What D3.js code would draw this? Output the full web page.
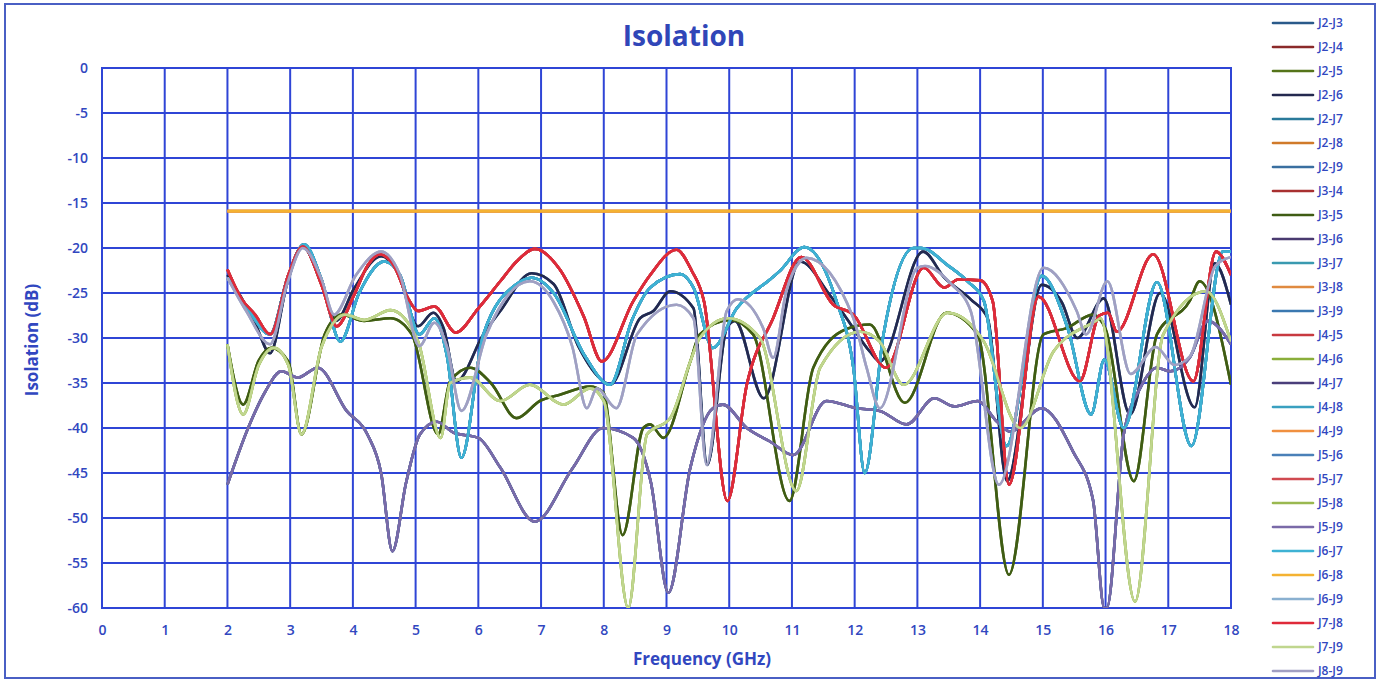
<!DOCTYPE html>
<html>
<head>
<meta charset="utf-8">
<script src="https://cdn.jsdelivr.net/npm/d3@7"></script>
<style>
  body { margin: 0; background: #fff; }
  svg { display: block; font-family: "Open Sans", "Noto Sans", sans-serif; }
</style>
</head>
<body>
<script>
// ---- data: [frequency GHz, isolation dB] ----
var redCurve = [[2,-22.4],[2.22,-25.6],[2.44,-27.4],[2.68,-29.6],[2.97,-23],[3.2,-19.8],[3.5,-24.1],[3.74,-28.7],[4.02,-25.2],[4.24,-21.9],[4.43,-20.7],[4.67,-22.2],[4.88,-25.6],[5.04,-27],[5.3,-26.5],[5.64,-29.4],[6.0,-26.7],[6.35,-23.7],[6.61,-21.5],[6.9,-20.1],[7.3,-22.4],[7.68,-27.6],[7.97,-32.6],[8.47,-25.9],[8.74,-23],[9.16,-20.2],[9.4,-22.5],[9.6,-26],[9.97,-48.1],[10.28,-35.2],[10.7,-27.8],[11.15,-21],[11.66,-26.3],[11.98,-27.4],[12.5,-33.3],[13.1,-22.2],[13.43,-24.4],[13.65,-23.5],[14.0,-23.6],[14.2,-25.9],[14.46,-46.3],[14.93,-25.4],[15.59,-34.8],[15.9,-27.5],[16.04,-27.2],[16.18,-29.3],[16.76,-20.7],[17.4,-34.8],[17.76,-20.4],[18,-23]];
var navyCurve = [[2,-23],[2.22,-25.5],[2.45,-28.5],[2.68,-31.7],[2.95,-24],[3.2,-19.8],[3.5,-24],[3.73,-28.1],[4.02,-24.5],[4.45,-20.9],[4.7,-22.5],[5.04,-28.7],[5.28,-27.2],[5.45,-29],[5.65,-34.8],[6.08,-29.6],[6.35,-27],[6.85,-22.8],[7.2,-24],[7.6,-31],[7.99,-34.8],[8.1,-35.2],[8.58,-27.8],[8.79,-27],[9.06,-24.8],[9.43,-26.7],[9.65,-44.1],[9.96,-28.9],[10.09,-28.1],[10.55,-36.7],[11.13,-21.5],[11.6,-25.2],[11.87,-27.8],[12.24,-31.5],[12.4,-32.6],[13.09,-20.4],[13.43,-23.3],[13.85,-25.7],[14.12,-27.8],[14.43,-45.9],[14.98,-24.1],[15.3,-26],[15.55,-30],[15.97,-25.6],[16.39,-38.5],[16.87,-25],[17.42,-37.7],[17.74,-21.7],[18,-26.3]];
var cyanCurve = [[2,-23.3],[2.3,-26.5],[2.68,-29.6],[2.95,-23.5],[3.22,-19.6],[3.5,-23.5],[3.8,-30.4],[4.1,-25],[4.5,-21.5],[4.75,-23],[5.06,-29.6],[5.3,-27.8],[5.5,-32],[5.73,-43.3],[6.08,-29.6],[6.61,-24],[6.85,-23.3],[7.2,-25],[7.7,-32],[8.1,-35.2],[8.45,-28],[8.74,-24.4],[9.22,-22.9],[9.43,-24.4],[9.74,-31.1],[10.12,-26.7],[10.65,-23.5],[10.8,-22.6],[11.2,-19.9],[11.71,-25.9],[11.98,-33.3],[12.16,-45],[12.46,-29.6],[12.94,-20],[13.06,-20],[13.48,-21.9],[13.8,-23.7],[14.06,-25.9],[14.42,-42],[14.98,-23.1],[15.4,-29],[15.77,-38.5],[15.98,-32.4],[16.29,-40],[16.82,-23.8],[17.37,-42],[17.87,-20.4],[18,-20.4]];
var grayCurve = [[2,-23.3],[2.3,-27],[2.68,-30.7],[2.95,-24],[3.2,-20],[3.5,-23.5],[3.7,-27.4],[4.05,-23],[4.45,-20.4],[4.75,-23],[5.06,-30.9],[5.3,-28.3],[5.5,-31],[5.73,-38.1],[6.13,-29.6],[6.82,-23.7],[7.2,-26],[7.5,-31],[7.73,-37.8],[7.89,-35.6],[8.2,-37.8],[8.53,-29.6],[9.16,-26.3],[9.43,-27.8],[9.64,-44.1],[9.96,-27],[10.14,-25.7],[10.54,-28.9],[10.7,-32.2],[10.91,-24.8],[11.13,-21.5],[11.23,-21.1],[11.98,-27.8],[12.19,-33.3],[12.4,-37.8],[13.0,-22.2],[13.12,-22],[13.54,-24],[13.85,-27],[14.3,-46.3],[15.01,-22.2],[15.54,-27],[15.69,-29.6],[16.03,-23.7],[16.4,-34],[16.8,-31],[17.1,-33],[17.35,-32],[17.75,-22],[18,-21]];
var oliveCurve = [[2,-30.7],[2.25,-37.4],[2.5,-32.5],[2.7,-31.1],[2.97,-32.6],[3.18,-40.7],[3.55,-29.6],[3.82,-27.4],[4.18,-28.1],[4.6,-27.8],[4.94,-29.6],[5.36,-40.7],[5.55,-34.8],[5.87,-33.3],[6.2,-35],[6.61,-38.9],[6.98,-37],[7.3,-36.3],[7.78,-35.4],[7.99,-36],[8.3,-51.9],[8.63,-40],[8.74,-39.6],[8.95,-41.1],[9.38,-32.6],[9.53,-29.6],[10.01,-28],[10.38,-29.6],[10.96,-48.1],[11.34,-33.3],[11.87,-29],[12.24,-28.5],[12.8,-37.2],[13.46,-27.2],[13.96,-29.6],[14.46,-56.3],[15.01,-29.6],[15.38,-28.9],[15.8,-27.4],[16.0,-29],[16.45,-45.9],[16.82,-29.6],[17.34,-25.9],[17.5,-23.7],[18,-35.2]];
var limeCurve = [[2,-30.7],[2.25,-38.5],[2.5,-33],[2.74,-31.1],[2.97,-33],[3.18,-40.7],[3.5,-31],[3.88,-27.4],[4.18,-28],[4.6,-26.9],[5.04,-30.4],[5.4,-41.1],[5.55,-35],[5.87,-34.4],[6.35,-37],[6.82,-35.2],[7.36,-37.4],[7.78,-35.6],[8.0,-37],[8.39,-60],[8.69,-40.7],[9.06,-38.9],[9.38,-32.6],[9.53,-30],[9.98,-27.8],[10.49,-30],[11.07,-47],[11.45,-33.3],[12.09,-29.3],[12.4,-30.4],[12.78,-35.2],[13.48,-27.2],[14.06,-30.4],[14.64,-40],[15.17,-31.5],[15.85,-28.1],[15.92,-27.8],[16.47,-59.3],[16.92,-29.6],[17.6,-24.8],[18,-30.4]];
var purpleCurve = [[2,-46.3],[2.33,-40],[2.6,-36],[2.86,-33.7],[3.12,-34.4],[3.44,-33.3],[3.9,-38.1],[4.23,-40.7],[4.45,-45],[4.63,-53.7],[4.85,-46],[5.07,-40.7],[5.34,-39.3],[5.6,-40.5],[6.0,-41.1],[6.35,-44.4],[6.9,-50.4],[7.5,-44.5],[7.99,-40],[8.47,-41.1],[8.75,-46],[9.03,-58.3],[9.38,-44.4],[9.74,-37.8],[9.9,-37.4],[10.28,-40],[10.65,-41.5],[11.02,-43],[11.55,-37],[12.03,-37.8],[12.4,-38.1],[12.83,-39.6],[13.27,-36.7],[13.59,-37.6],[13.96,-37],[14.27,-39.3],[14.48,-40.4],[14.98,-37.8],[15.48,-42.6],[15.8,-48],[15.98,-60],[16.02,-60],[16.29,-40.7],[16.55,-35.6],[16.82,-33.3],[17.03,-33.7],[17.34,-32.2],[17.63,-28.1],[18,-30.7]];
var orangeCurve = [[2,-15.9],[18,-15.9]];

// legend order: name, colour, which curve it follows
var seriesNames  = ["J2-J3","J2-J4","J2-J5","J2-J6","J2-J7","J2-J8","J2-J9","J3-J4","J3-J5","J3-J6","J3-J7","J3-J8","J3-J9","J4-J5","J4-J6","J4-J7","J4-J8","J4-J9","J5-J6","J5-J7","J5-J8","J5-J9","J6-J7","J6-J8","J6-J9","J7-J8","J7-J9","J8-J9"];
var seriesColors = ["#2a5a8a","#8b2a2a","#55741a","#24294f","#2a7a9a","#d07a2a","#3a6fa0","#a83030","#3f5c14","#4a3a70","#3a9ab0","#e08a40","#3a78b0","#c83a40","#8aae3a","#4a3e7a","#3aa0c0","#f09040","#4a80b8","#d04a50","#9ab850","#7a6aa8","#3eb2d4","#f4b232","#8ab0d0","#df2a3a","#c0d68e","#a19fc2"];
var seriesCurve  = ["navy","red","olive","navy","cyan","orange","cyan","red","olive","purple","cyan","orange","cyan","red","lime","purple","cyan","orange","purple","red","lime","purple","cyan","orange","gray","red","lime","gray"];

var curves = {red: redCurve, navy: navyCurve, cyan: cyanCurve, gray: grayCurve,
              olive: oliveCurve, lime: limeCurve, purple: purpleCurve, orange: orangeCurve};

var xTicks = d3.range(0, 19, 1);
var yTicks = d3.range(-60, 1, 5);

// ---- layout ----
var w = 1377;
var h = 682;
var margin = {top: 68, right: 146, bottom: 74, left: 102};
var innerWidth = w - margin.left - margin.right;
var innerHeight = h - margin.top - margin.bottom;

var gridColor = "#2f45d6";
var textColor = "#3147c0";
var fontFamily = '"Open Sans", "Noto Sans", sans-serif';

var svg = d3.select("body")
    .append("svg")
    .attr("width", w)
    .attr("height", h);

// outer frame (stroke only)
svg.append("rect")
    .attr("x", 5)
    .attr("y", 4)
    .attr("width", 1370)
    .attr("height", 674)
    .attr("fill", "none")
    .attr("stroke", "#4a5fc4")
    .attr("stroke-width", 2);

var x = d3.scaleLinear().domain([0, 18]).range([0, innerWidth]);
var y = d3.scaleLinear().domain([-60, 0]).range([innerHeight, 0]);

var g = svg.append("g")
    .attr("transform", `translate(${margin.left}, ${margin.top})`);

// grid lines
g.append("g")
  .selectAll("line")
  .data(xTicks)
  .enter().append("line")
    .attr("x1", d => x(d)).attr("x2", d => x(d))
    .attr("y1", 0).attr("y2", innerHeight)
    .attr("stroke", gridColor)
    .attr("stroke-width", 2);

g.append("g")
  .selectAll("line")
  .data(yTicks)
  .enter().append("line")
    .attr("x1", 0).attr("x2", innerWidth)
    .attr("y1", d => y(d)).attr("y2", d => y(d))
    .attr("stroke", gridColor)
    .attr("stroke-width", 2);

// tick labels (plain hyphen minus, like the original)
var xAxis = g.append("g")
    .attr("transform", `translate(0, ${innerHeight})`)
    .call(d3.axisBottom(x).tickValues(xTicks).tickSize(0).tickPadding(17).tickFormat(d => String(d)));

var yAxis = g.append("g")
    .call(d3.axisLeft(y).tickValues(yTicks).tickSize(0).tickPadding(14).tickFormat(d => String(d)));

[xAxis, yAxis].forEach(function (ax) {
  ax.attr("font-family", fontFamily);
  ax.select(".domain").remove();
  ax.selectAll(".tick line").remove();
  ax.selectAll(".tick text")
      .attr("fill", textColor)
      .attr("font-size", 14)
      .attr("font-weight", 600);
});

// plot border
g.append("rect")
    .attr("width", innerWidth)
    .attr("height", innerHeight)
    .attr("fill", "none")
    .attr("stroke", gridColor)
    .attr("stroke-width", 2);

// lines
var line = d3.line()
    .x(d => x(d[0]))
    .y(d => y(d[1]))
    .curve(d3.curveMonotoneX);

g.append("clipPath").attr("id", "plotclip")
  .append("rect")
    .attr("x", 0).attr("y", -2)
    .attr("width", innerWidth).attr("height", innerHeight + 2);

g.append("g")
    .attr("clip-path", "url(#plotclip)")
  .selectAll("path")
  .data(seriesNames)
  .enter().append("path")
    .attr("d", (d, i) => line(curves[seriesCurve[i]]))
    .attr("fill", "none")
    .attr("stroke", (d, i) => seriesColors[i])
    .attr("stroke-width", 2.6)
    .attr("stroke-linejoin", "round");

// titles
svg.append("text")
    .attr("x", 684)
    .attr("y", 46)
    .attr("text-anchor", "middle")
    .attr("fill", "#3046b8")
    .attr("font-size", 28)
    .attr("font-weight", "bold")
    .text("Isolation");

svg.append("text")
    .attr("x", 702)
    .attr("y", 665)
    .attr("text-anchor", "middle")
    .attr("fill", textColor)
    .attr("font-size", 17)
    .attr("font-weight", "bold")
    .text("Frequency (GHz)");

svg.append("text")
    .attr("transform", "translate(38, 340) rotate(-90)")
    .attr("text-anchor", "middle")
    .attr("fill", textColor)
    .attr("font-size", 17)
    .attr("font-weight", "bold")
    .text("Isolation (dB)");

// legend
var legend = svg.append("g")
  .selectAll("g")
  .data(seriesNames)
  .enter().append("g")
    .attr("transform", (d, i) => `translate(1273, ${23 + i * 24})`);

legend.append("line")
    .attr("x1", 0).attr("x2", 40)
    .attr("stroke", (d, i) => seriesColors[i])
    .attr("stroke-width", 2.6)
    .attr("stroke-linecap", "round");

legend.append("text")
    .attr("x", 45)
    .attr("dy", "0.35em")
    .attr("fill", textColor)
    .attr("font-size", 12)
    .attr("font-weight", 600)
    .text(d => d);
</script>
</body>
</html>
